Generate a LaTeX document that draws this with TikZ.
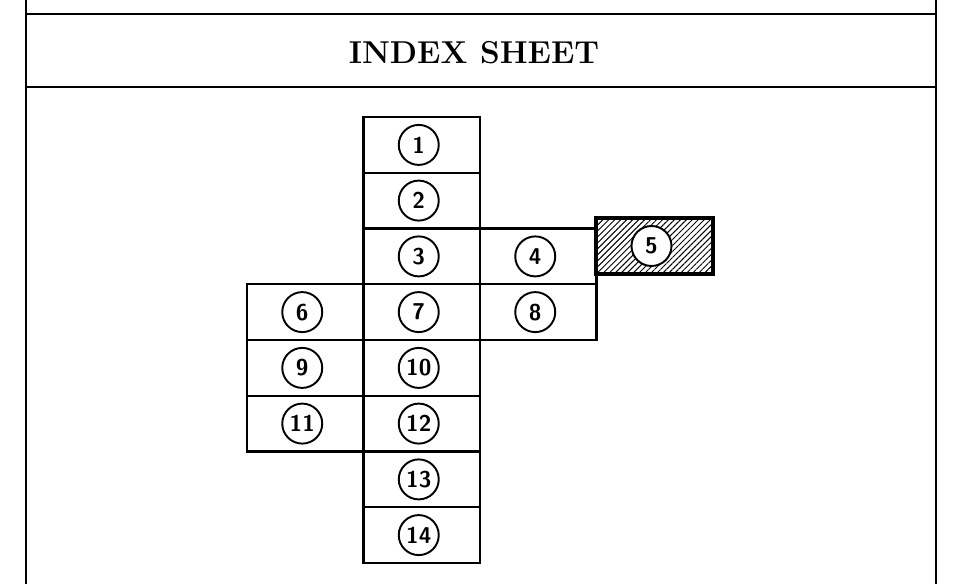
\documentclass[tikz,border=0pt]{standalone}
\usetikzlibrary{patterns.meta}
\definecolor{Paper}{HTML}{FFFFFF}
\definecolor{Ink}{HTML}{000000}

\begin{document}
\begin{tikzpicture}[x=0.2mm,y=-0.2mm,every node/.style={text=Ink},frame/.style={draw=Ink,line width=1.1pt},cell/.style={rectangle,draw=Ink,line width=1.2pt,minimum width=23.3mm,minimum height=11.15mm,inner sep=0pt},num/.style={circle,draw=Ink,line width=1.1pt,minimum size=8mm,inner sep=0pt,fill=white,font=\fontsize{13}{15}\sffamily\bfseries},hatched/.style={cell,line width=2.4pt,pattern={Lines[angle=45,distance=2.4pt,line width=0.55pt]},pattern color=Ink}]
\fill[Paper] (0,0) rectangle (969,584);\useasboundingbox (0,0) rectangle (969,584);
\draw[frame] (26,0)--(26,584);\draw[frame] (936,0)--(936,584);\draw[frame] (26,14)--(936,14);\draw[frame] (26,87)--(936,87);
\node[font=\fontsize{18}{21}\selectfont\bfseries] (title) at (474,53) {INDEX\hspace{0.4em}SHEET};

% index cells
\node[cell] (s1) at (421.75,144.9){};\node[cell] (s2) at (421.75,200.6){};\node[cell] (s3) at (421.75,256.4){};
\node[cell] (s4) at (538.25,256.4){};\node[hatched] (s5) at (654.5,246){};
\node[cell] (s6) at (305.25,312.1){};\node[cell] (s7) at (421.75,312.1){};\node[cell] (s8) at (538.25,312.1){};
\node[cell] (s9) at (305.25,367.9){};\node[cell] (s10) at (421.75,367.9){};
\node[cell] (s11) at (305.25,423.6){};\node[cell] (s12) at (421.75,423.6){};
\node[cell] (s13) at (421.75,479.4){};\node[cell] (s14) at (421.75,535.1){};

% sheet numbers
\foreach \n in {1,...,14}{\node[num] (n\n) at ([xshift=-0.6mm]s\n.center){\n};}
\end{tikzpicture}
\end{document}
